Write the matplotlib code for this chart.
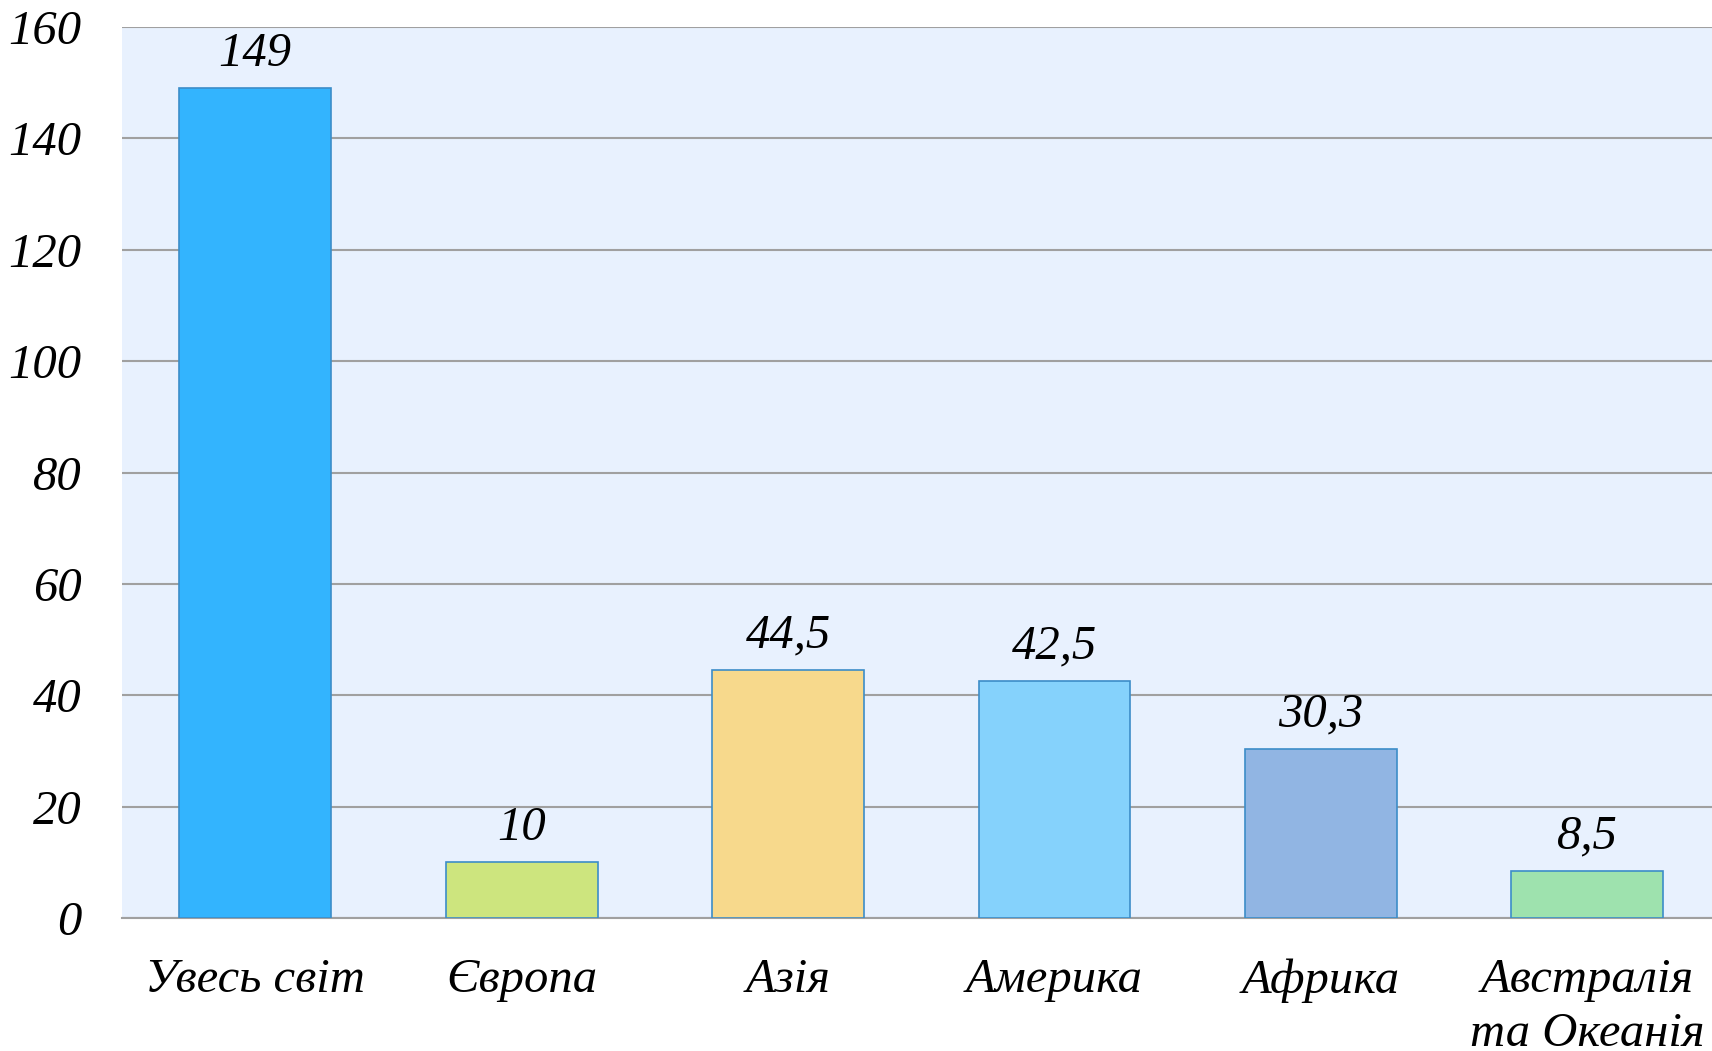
import matplotlib
matplotlib.use("Agg")
import matplotlib.pyplot as plt

categories = ["Увесь світ", "Європа", "Азія", "Америка", "Африка", "Австралія\nта Океанія"]
values = [149, 10, 44.5, 42.5, 30.3, 8.5]
value_labels = ["149", "10", "44,5", "42,5", "30,3", "8,5"]
colors = ["#33B4FE", "#CDE57E", "#F7D98C", "#85D2FC", "#91B5E3", "#9EE2AE"]
yticks = [0, 20, 40, 60, 80, 100, 120, 140, 160]

plt.rcParams['font.family'] = ['Liberation Serif', 'DejaVu Serif']
plt.rcParams['font.style'] = 'italic'

fig = plt.figure(figsize=(17.12, 10.51), dpi=100)
# axes run a little past the right edge of the figure, as in the reference
ax = fig.add_axes([0.0713, 0.1265, 0.9336, 0.8478])
ax.set_facecolor("#E8F1FE")

x = range(len(categories))
ax.bar(x, values, width=0.57, color=colors, edgecolor="#3C8DC8", linewidth=1.2, zorder=3)

for i, (v, lab) in enumerate(zip(values, value_labels)):
    ax.annotate(lab, (i, v), xytext=(0, 25), textcoords="offset points",
                ha="center", va="center", fontsize=35, style="italic")

ax.set_xlim(-0.5, len(categories) - 0.5)
ax.set_ylim(0, 160)
ax.set_yticks(yticks)
ax.set_yticklabels([str(t) for t in yticks], fontsize=35, style="italic")
ax.set_xticks(list(x))
ax.set_xticklabels(categories, fontsize=35, style="italic", linespacing=1.28)
ax.tick_params(axis="y", length=0, pad=29)
ax.tick_params(axis="x", length=0, pad=29)
for lab in ax.get_xticklabels():
    lab.set_verticalalignment("top")

ax.grid(axis="y", color="#A0A0A0", linewidth=1.5, zorder=0)
for s in ["top", "right", "left"]:
    ax.spines[s].set_visible(False)
ax.spines["bottom"].set_color("#A0A0A0")
ax.spines["bottom"].set_linewidth(1.5)

fig.savefig("out.png", dpi=100)
